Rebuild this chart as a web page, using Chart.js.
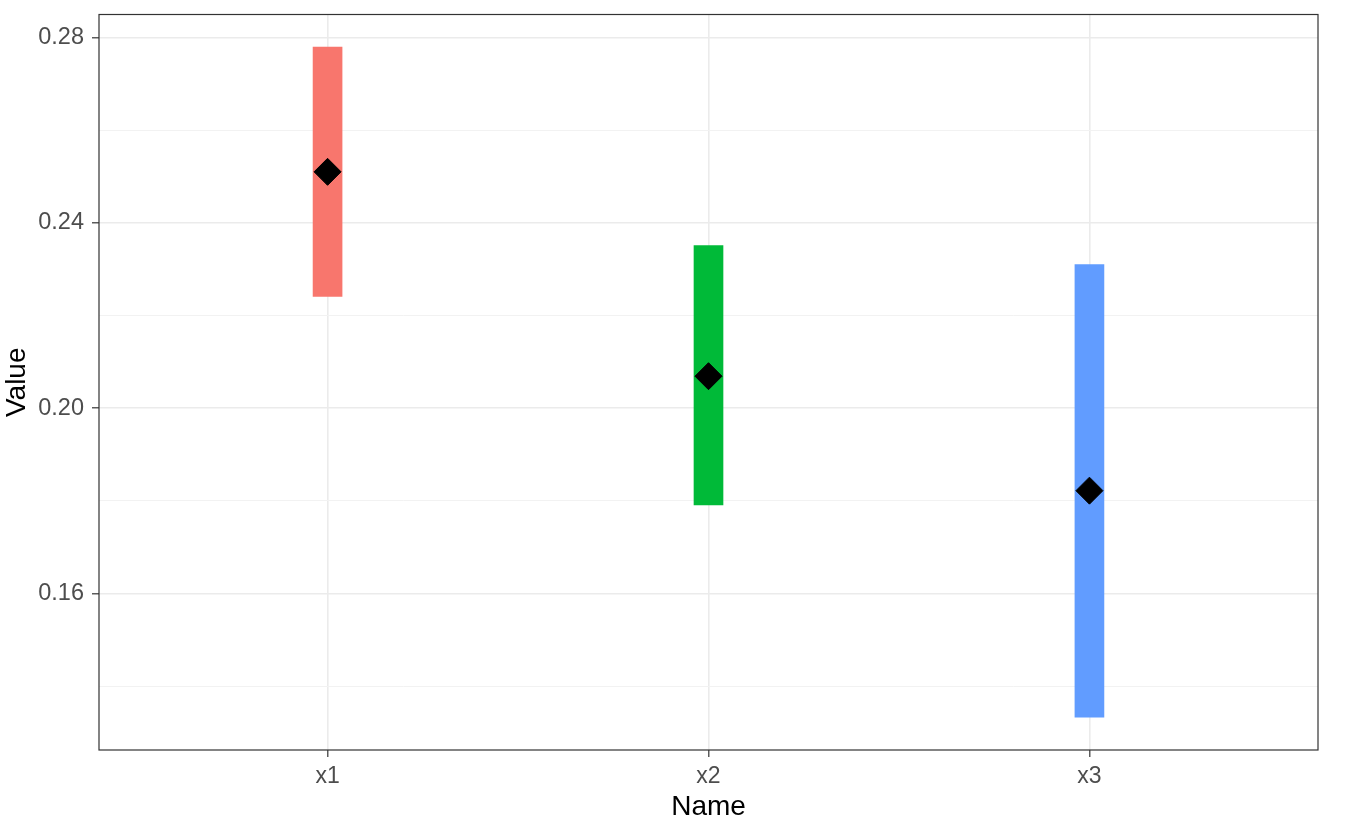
<!DOCTYPE html>
<html lang="en">
<head>
    <meta charset="UTF-8">
    <title>Value by Name</title>
    <script src="https://cdn.jsdelivr.net/npm/chart.js"></script>
    <style>
        html, body { margin: 0; padding: 0; background: #ffffff; }
        #wrap { width: 1348px; height: 834px; }
    </style>
</head>
<body>
    <div id="wrap"><canvas id="chart" width="1348" height="834"></canvas></div>

    <script>
        // data
        const names = ['x1', 'x2', 'x3'];
        const lowValues = [0.2241, 0.1791, 0.1333];
        const highValues = [0.2779, 0.2351, 0.2310];
        const pointValues = [0.2510, 0.2069, 0.1822];
        const barColors = ['#F8766D', '#00BA38', '#619CFF'];
        const yTicks = [0.14, 0.16, 0.18, 0.20, 0.22, 0.24, 0.26, 0.28];
        const yLabelTicks = [0.16, 0.20, 0.24, 0.28];

        const isMajor = v => yLabelTicks.some(t => Math.abs(t - v) < 1e-6);

        // panel border round the plot area
        const panelBorder = {
            id: 'panelBorder',
            afterDraw(chart) {
                const a = chart.chartArea;
                const c = chart.ctx;
                c.save();
                c.strokeStyle = '#333333';
                c.lineWidth = 1.2;
                c.strokeRect(a.left, a.top, a.right - a.left, a.bottom - a.top);
                c.restore();
            }
        };

        const ctx = document.getElementById('chart').getContext('2d');
        new Chart(ctx, {
            type: 'bar',
            data: {
                datasets: [
                    {
                        type: 'bar',
                        data: names.map((n, i) => ({ x: i + 1, y: [lowValues[i], highValues[i]] })),
                        backgroundColor: barColors,
                        borderWidth: 0,
                        barThickness: 29,
                        order: 2
                    },
                    {
                        type: 'scatter',
                        data: names.map((n, i) => ({ x: i + 1, y: pointValues[i] })),
                        pointStyle: 'rectRot',
                        pointRadius: 13.5,
                        backgroundColor: '#000000',
                        borderColor: '#000000',
                        borderWidth: 1,
                        order: 1
                    }
                ]
            },
            options: {
                responsive: false,
                animation: false,
                layout: { padding: { top: 10, right: 30, left: 0, bottom: 0 } },
                plugins: {
                    legend: { display: false },
                    tooltip: { enabled: false }
                },
                scales: {
                    x: {
                        type: 'linear',
                        min: 0.4,
                        max: 3.6,
                        offset: false,
                        afterBuildTicks: scale => {
                            scale.ticks = names.map((n, i) => ({ value: i + 1 }));
                        },
                        afterFit: scale => {
                            scale.height = 84;
                            scale.paddingLeft = 0;
                            scale.paddingRight = 0;
                        },
                        grid: {
                            offset: false,
                            color: '#ebebeb',
                            lineWidth: 1.6,
                            tickColor: '#333333',
                            tickWidth: 1.2,
                            tickLength: 7
                        },
                        border: { display: false },
                        ticks: {
                            callback: v => names[Math.round(v) - 1],
                            color: '#4d4d4d',
                            font: { family: 'Liberation Sans', size: 23 },
                            padding: 6,
                            maxRotation: 0
                        },
                        title: {
                            display: true,
                            text: 'Name',
                            color: '#000000',
                            font: { family: 'Liberation Sans', size: 28 },
                            padding: { top: 0, bottom: 10 }
                        }
                    },
                    y: {
                        type: 'linear',
                        min: 0.12624,
                        max: 0.28495,
                        afterBuildTicks: scale => {
                            scale.ticks = yTicks.map(v => ({ value: v }));
                        },
                        afterFit: scale => {
                            scale.width = 99;
                            scale.paddingTop = 0;
                            scale.paddingBottom = 0;
                        },
                        grid: {
                            color: ctx => isMajor(ctx.tick.value) ? '#ebebeb' : '#f2f2f2',
                            lineWidth: ctx => isMajor(ctx.tick.value) ? 1.6 : 1,
                            tickColor: ctx => isMajor(ctx.tick.value) ? '#333333' : 'rgba(0,0,0,0)',
                            tickWidth: 1.2,
                            tickLength: 7
                        },
                        border: { display: false },
                        ticks: {
                            callback: v => isMajor(v) ? v.toFixed(2) : '',
                            color: '#4d4d4d',
                            font: { family: 'Liberation Sans', size: 23.5 },
                            padding: 8
                        },
                        title: {
                            display: true,
                            text: 'Value',
                            color: '#000000',
                            font: { family: 'Liberation Sans', size: 28 },
                            padding: { top: 0, bottom: 0 }
                        }
                    }
                }
            },
            plugins: [panelBorder]
        });
    </script>
</body>
</html>
